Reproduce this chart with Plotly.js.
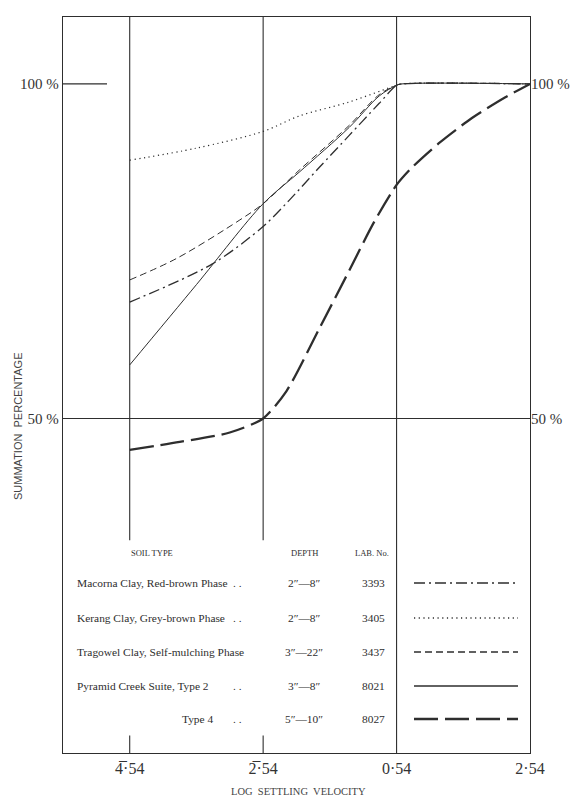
<!DOCTYPE html>
<html>
<head>
<meta charset="utf-8">
<script src="https://cdn.plot.ly/plotly-3.0.1.min.js"></script>
<style>html,body{margin:0;padding:0;background:#fff;}#chart{width:575px;height:799px;}</style>
</head>
<body>
<div id="chart"></div>
<script>
// ---- data (x = log settling velocity, y = summation percentage) ----
const tickVals = [-3.46, -1.46, 0.54, 2.54];
const tickText = ["4\u0305\u00b754", "2\u0305\u00b754", "0\u00b754", "2\u00b754"];
const yTickVals = [50, 100];
const yTickText = ["50 %", "100 %"];

const soilNames = ["Macorna Clay, Red-brown Phase", "Kerang Clay, Grey-brown Phase", "Tragowel Clay, Self-mulching Phase", "Pyramid Creek Suite, Type 2", "Type 4"];
const depths = ["2\u2033\u20148\u2033", "2\u2033\u20148\u2033", "3\u2033\u201422\u2033", "3\u2033\u20148\u2033", "5\u2033\u201410\u2033"];
const labNos = ["3393", "3405", "3437", "8021", "8027"];

const xMacorna = [-3.46, -2.22, -1.46, -1.07, -0.62, -0.17, 0.28, 0.54, 0.62, 2.54];
const yMacorna = [67.4, 73.1, 78.7, 82.6, 87.5, 92.3, 97.1, 99.8, 100, 100];

const xKerang = [-3.46, -2.46, -1.46, -0.92, -0.17, 0.54, 0.62, 2.54];
const yKerang = [88.6, 90.4, 92.9, 95.2, 97.3, 99.8, 100, 100];

const xTragowel = [-3.46, -2.76, -1.82, -1.46, -0.92, -0.17, 0.28, 0.54, 0.62, 2.54];
const yTragowel = [70.7, 73.9, 79.6, 82.1, 87.1, 93.8, 98.4, 99.8, 100, 100];

const xPyramid2 = [-3.46, -2.46, -1.46, -0.92, -0.17, 0.28, 0.54, 0.62, 2.54];
const yPyramid2 = [58.0, 70.0, 82.1, 86.8, 93.5, 98.2, 99.8, 100, 100];

const xType4 = [-3.46, -2.71, -1.96, -1.46, -1.11, -0.62, -0.17, 0.2, 0.54, 0.77, 1.17, 1.67, 2.17, 2.54];
const yType4 = [45.3, 46.5, 47.9, 50, 54.1, 63.4, 72.1, 79.3, 84.9, 87.5, 91.1, 94.9, 98.0, 100];

// ---- styles ----
const ink = "#2e2e2e";
const serif = "Liberation Serif, DejaVu Serif, serif";
const sans = "Liberation Sans, DejaVu Sans, sans-serif";
const styles = [
  {dash: "11px,4px,2px,4px", width: 1.3, smooth: 0.9},
  {dash: "1.2px,3.5px", width: 1.2, smooth: 0.9},
  {dash: "7px,4px", width: 1, smooth: 0.9},
  {dash: "solid", width: 1, smooth: 0.9},
  {dash: "24px,7px", width: 2.3, smooth: 0.7}
];
const series = [[xMacorna, yMacorna], [xKerang, yKerang], [xTragowel, yTragowel], [xPyramid2, yPyramid2], [xType4, yType4]];

const traces = series.map((s, i) => ({
  x: s[0], y: s[1], type: "scatter", mode: "lines", name: soilNames[i],
  line: {color: ink, width: styles[i].width, dash: styles[i].dash, shape: "spline", smoothing: styles[i].smooth},
  showlegend: false, hoverinfo: "skip"
}));
// right axis carrier (no visible marks)
traces.push({x: [2.54], y: [100], yaxis: "y2", type: "scatter", mode: "markers", marker: {opacity: 0}, showlegend: false, hoverinfo: "skip"});

// ---- frame geometry (pixels) ----
const L = 63, R = 530, T = 17, B = 753;
const px = x => (x - L) / (R - L);
const py = y => (B - y) / (B - T);

const shapes = [];
const lineStyle = {color: ink, width: 1.1};
// vertical guide lines (broken by the legend table for the first two)
[tickVals[0], tickVals[1]].forEach(v => {
  shapes.push({type: "line", xref: "x", yref: "y", x0: v, x1: v, y0: 0, y1: 2.6, line: lineStyle});
  shapes.push({type: "line", xref: "x", yref: "y", x0: v, x1: v, y0: 31.8, y1: 110, line: lineStyle});
});
shapes.push({type: "line", xref: "x", yref: "y", x0: tickVals[2], x1: tickVals[2], y0: 0, y1: 110, line: lineStyle});
// 50 % line and 100 % stub
shapes.push({type: "line", xref: "x", yref: "y", x0: -4.46, x1: 2.54, y0: 50, y1: 50, line: lineStyle});
shapes.push({type: "line", xref: "x", yref: "y", x0: -4.46, x1: -3.8, y0: 100, y1: 100, line: lineStyle});

// legend table
const rowY = [583, 618, 652, 686, 719];
const annotations = [];
const tf = (size) => ({family: serif, size: size, color: ink});
annotations.push({xref: "paper", yref: "paper", x: px(152), y: py(553), text: "SOIL TYPE", showarrow: false, font: tf(8.5), xanchor: "center", yanchor: "middle"});
annotations.push({xref: "paper", yref: "paper", x: px(304), y: py(553), text: "DEPTH", showarrow: false, font: tf(8.5), xanchor: "center", yanchor: "middle"});
annotations.push({xref: "paper", yref: "paper", x: px(372), y: py(553), text: "LAB. No.", showarrow: false, font: tf(8.5), xanchor: "center", yanchor: "middle"});
soilNames.forEach((n, i) => {
  const y = py(rowY[i]);
  if (i < 4) {
    annotations.push({xref: "paper", yref: "paper", x: px(75), y: y, text: n, showarrow: false, font: tf(11.4), xanchor: "left", yanchor: "middle"});
  } else {
    annotations.push({xref: "paper", yref: "paper", x: px(215), y: y, text: n, showarrow: false, font: tf(11.4), xanchor: "right", yanchor: "middle"});
  }
  if (i !== 2) {
    annotations.push({xref: "paper", yref: "paper", x: px(244), y: y, text: ". .", showarrow: false, font: tf(11.4), xanchor: "right", yanchor: "middle"});
  }
  annotations.push({xref: "paper", yref: "paper", x: px(304), y: y, text: depths[i], showarrow: false, font: tf(11.4), xanchor: "center", yanchor: "middle"});
  annotations.push({xref: "paper", yref: "paper", x: px(373), y: y, text: labNos[i], showarrow: false, font: tf(11.4), xanchor: "center", yanchor: "middle"});
  shapes.push({type: "line", xref: "paper", yref: "paper", x0: px(414), x1: px(518), y0: y, y1: y,
    line: {color: ink, width: styles[i].width + 0.3, dash: styles[i].dash}});
});

// axis titles
annotations.push({xref: "paper", yref: "paper", x: px(18), y: py(426), text: "SUMMATION  PERCENTAGE", textangle: -90, showarrow: false,
  font: {family: sans, size: 11, color: "#444"}, xanchor: "center", yanchor: "middle"});
annotations.push({xref: "paper", yref: "paper", x: px(298), y: py(791), text: "LOG  SETTLING  VELOCITY", showarrow: false,
  font: {family: serif, size: 10.5, color: "#444"}, xanchor: "center", yanchor: "middle"});

const layout = {
  width: 575, height: 799,
  margin: {l: L, r: 575 - R, t: T, b: 799 - B, pad: 0},
  paper_bgcolor: "#fff", plot_bgcolor: "#fff",
  xaxis: {range: [-4.46, 2.54], showgrid: false, zeroline: false, showline: true, mirror: true, linecolor: ink, linewidth: 1.3,
    tickvals: tickVals, ticktext: tickText, ticks: "", tickfont: {family: serif, size: 16, color: "#333"}},
  yaxis: {range: [0, 110], showgrid: false, zeroline: false, showline: true, mirror: true, linecolor: ink, linewidth: 1.3,
    tickvals: yTickVals, ticktext: yTickText, ticks: "", tickfont: {family: serif, size: 15, color: "#333"}},
  yaxis2: {range: [0, 110], overlaying: "y", side: "right", showgrid: false, zeroline: false, showline: false,
    tickvals: yTickVals, ticktext: yTickText, ticks: "", tickfont: {family: serif, size: 15, color: "#333"}},
  shapes: shapes,
  annotations: annotations,
  showlegend: false
};

Plotly.newPlot("chart", traces, layout, {displayModeBar: false, staticPlot: true});
</script>
</body>
</html>
